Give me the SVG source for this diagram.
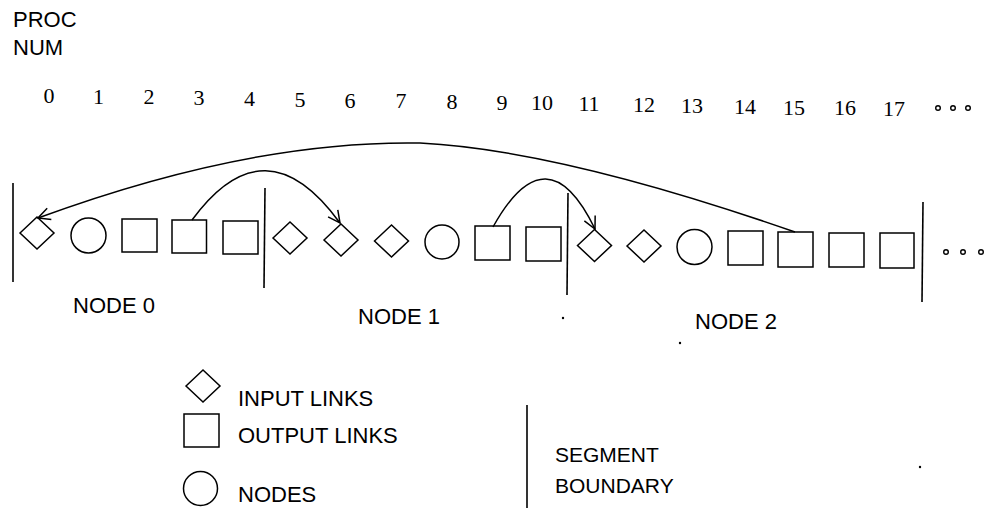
<svg xmlns="http://www.w3.org/2000/svg" width="988" height="510" viewBox="0 0 988 510">
<style>
.s{fill:none;stroke:#000;stroke-width:1.5}
.seg{fill:none;stroke:#000;stroke-width:1.6}
.num{font-family:"Liberation Serif","Times New Roman",serif;font-size:22px;fill:#000;text-anchor:middle}
.lbl{font-family:"Liberation Sans",Arial,sans-serif;font-size:22px;fill:#000}
.lbs{font-family:"Liberation Sans",Arial,sans-serif;font-size:21px;fill:#000}
.dot{fill:none;stroke:#000;stroke-width:1.4}
</style>
<defs>
<path id="dia" d="M-17,0 L0,-16 L17,0 L0,16 Z"/>
<marker id="arr" markerWidth="16" markerHeight="16" refX="14" refY="8" orient="auto" markerUnits="userSpaceOnUse">
<path d="M2,2 L14,8 L2,14" fill="none" stroke="#000" stroke-width="1.5"/>
</marker>
</defs>
<rect width="988" height="510" fill="#fff"/>
<g id="header">
<text class="lbl" x="13" y="27">PROC</text>
<text class="lbl" x="13" y="55">NUM</text>
</g>
<g id="proc-numbers">
<text class="num" x="49" y="103">0</text>
<text class="num" x="98.5" y="104">1</text>
<text class="num" x="149" y="104">2</text>
<text class="num" x="199" y="105">3</text>
<text class="num" x="249.5" y="106">4</text>
<text class="num" x="300" y="107">5</text>
<text class="num" x="350" y="108">6</text>
<text class="num" x="401" y="108">7</text>
<text class="num" x="452" y="109">8</text>
<text class="num" x="502" y="110">9</text>
<text class="num" x="542" y="110">10</text>
<text class="num" x="589" y="111">11</text>
<text class="num" x="644" y="112">12</text>
<text class="num" x="692" y="113">13</text>
<text class="num" x="745" y="114">14</text>
<text class="num" x="794" y="115">15</text>
<text class="num" x="845" y="115">16</text>
<text class="num" x="894" y="116">17</text>
<circle class="dot" cx="938" cy="108" r="2.3"/>
<circle class="dot" cx="953" cy="108" r="2.3"/>
<circle class="dot" cx="968" cy="108" r="2.3"/>
</g>
<g id="segment-boundaries">
<line class="seg" x1="13" y1="183" x2="13" y2="282"/>
<line class="seg" x1="265" y1="188" x2="264" y2="288"/>
<line class="seg" x1="568" y1="193" x2="567" y2="295"/>
<line class="seg" x1="923" y1="202" x2="922" y2="302"/>
</g>
<g id="p0"><use href="#dia" class="s" x="37" y="233"/></g>
<g id="p1"><circle class="s" cx="88.5" cy="235.5" r="17.5"/></g>
<g id="p2"><rect class="s" x="122" y="219" width="35" height="33"/></g>
<g id="p3"><rect class="s" x="172" y="220" width="34.5" height="33"/></g>
<g id="p4"><rect class="s" x="223" y="221" width="35" height="33"/></g>
<g id="p5"><use href="#dia" class="s" x="290" y="238"/></g>
<g id="p6"><use href="#dia" class="s" x="341" y="240"/></g>
<g id="p7"><use href="#dia" class="s" x="391.5" y="241"/></g>
<g id="p8"><circle class="s" cx="442" cy="242" r="17"/></g>
<g id="p9"><rect class="s" x="475" y="226" width="35" height="34"/></g>
<g id="p10"><rect class="s" x="526" y="227" width="35" height="34"/></g>
<g id="p11"><use href="#dia" class="s" x="594.5" y="245.5"/></g>
<g id="p12"><use href="#dia" class="s" x="644" y="246"/></g>
<g id="p13"><circle class="s" cx="694.5" cy="247" r="17.5"/></g>
<g id="p14"><rect class="s" x="728" y="231" width="35" height="34"/></g>
<g id="p15"><rect class="s" x="778" y="232" width="35" height="35"/></g>
<g id="p16"><rect class="s" x="829" y="233" width="35" height="34"/></g>
<g id="p17"><rect class="s" x="880" y="233" width="34" height="35"/></g>
<g id="more">
<circle class="dot" cx="946" cy="252" r="2.3"/>
<circle class="dot" cx="963" cy="252" r="2.3"/>
<circle class="dot" cx="981" cy="252" r="2.3"/>
</g>
<g id="connectors">
<path class="s" d="M795,232 Q560,150 420,143 Q250,140 38,218" marker-end="url(#arr)"/>
<path class="s" d="M192,220 Q265,120 340,223" marker-end="url(#arr)"/>
<path class="s" d="M493,227 Q547,130 595,229" marker-end="url(#arr)"/>
</g>
<g id="node-labels">
<text class="lbl" x="73" y="313">NODE 0</text>
<text class="lbl" x="358" y="324">NODE 1</text>
<text class="lbl" x="695" y="329">NODE 2</text>
</g>
<g id="specks">
<circle cx="563" cy="318" r="1.2" fill="#000"/>
<circle cx="680" cy="343" r="1.2" fill="#000"/>
<circle cx="920" cy="467" r="1.2" fill="#000"/>
</g>
<g id="legend">
<use href="#dia" class="s" x="203" y="386"/>
<text class="lbl" x="238" y="406">INPUT LINKS</text>
<rect class="s" x="184" y="414" width="35" height="33"/>
<text class="lbl" x="238" y="443">OUTPUT LINKS</text>
<circle class="s" cx="200.5" cy="488.5" r="17"/>
<text class="lbl" x="238" y="502">NODES</text>
<line class="seg" x1="527" y1="405" x2="527" y2="508"/>
<text class="lbs" x="555" y="462">SEGMENT</text>
<text class="lbs" x="555" y="493">BOUNDARY</text>
</g>
</svg>
